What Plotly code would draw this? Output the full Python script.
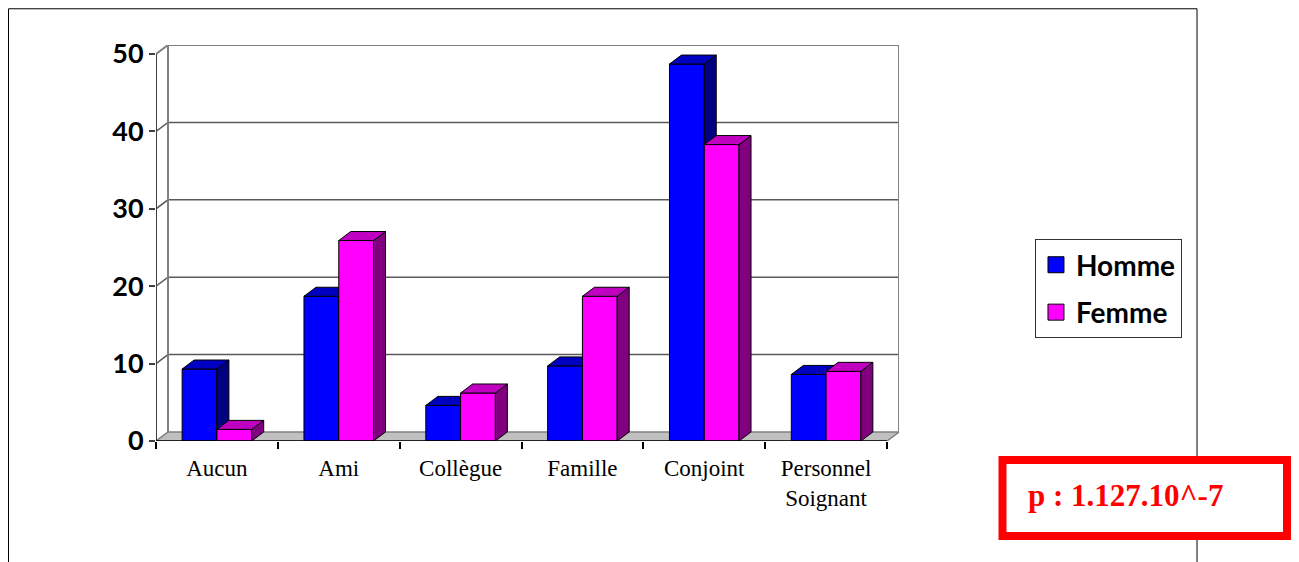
import plotly.graph_objects as go

categories = ["Aucun", "Ami", "Collègue", "Famille", "Conjoint", "Personnel<br>Soignant"]
homme = [9.3, 18.7, 4.6, 9.7, 48.7, 8.6]
femme = [1.5, 25.9, 6.2, 18.7, 38.3, 9.0]
series_names = ["Homme", "Femme"]
y_ticks = [0, 10, 20, 30, 40, 50]
p_text = "p : 1.127.10^-7"

# faux 3D (Excel style): depth offset, one category = 1 x unit
DX = 0.0985
DY = 1.163
BAR_W = 0.2855
n = len(categories)

front_colors = ["#0000FF", "#FF00FF"]
top_colors = ["#0000C0", "#C000C0"]
side_colors = ["#000080", "#800080"]
axes = [("x", "y"), ("x2", "y2")]

fig = go.Figure()

for k, vals in enumerate([homme, femme]):
    xa, ya = axes[k]
    centers = [i + 0.5 + (k - 0.5) * BAR_W for i in range(n)]
    fig.add_trace(go.Bar(x=centers, y=vals, width=BAR_W, xaxis=xa, yaxis=ya,
                         marker=dict(color=front_colors[k], line=dict(color="black", width=1)),
                         showlegend=False, hoverinfo="skip"))
    sx, sy, tx, ty = [], [], [], []
    for c, v in zip(centers, vals):
        x0, x1 = c - BAR_W / 2, c + BAR_W / 2
        sx += [x1, x1 + DX, x1 + DX, x1, x1, None]
        sy += [0, DY, v + DY, v, 0, None]
        tx += [x0, x1, x1 + DX, x0 + DX, x0, None]
        ty += [v, v, v + DY, v + DY, v, None]
    for px, py, col in [(sx, sy, side_colors[k]), (tx, ty, top_colors[k])]:
        fig.add_trace(go.Scatter(x=px, y=py, xaxis=xa, yaxis=ya, mode="lines", fill="toself",
                                 fillcolor=col, line=dict(color="black", width=1),
                                 showlegend=False, hoverinfo="skip"))

# legend entries
for k, name in enumerate(series_names):
    fig.add_trace(go.Scatter(x=[None], y=[None], mode="markers", name=name, legendgroup=name,
                             marker=dict(symbol="square", size=17, color=front_colors[k],
                                         line=dict(color="black", width=1))))

shapes = []
# floor
shapes.append(dict(type="path", xref="x", yref="y", layer="below",
                   path=f"M 0,0 L {n},0 L {n + DX},{DY} L {DX},{DY} Z",
                   fillcolor="#C0C0C0", line=dict(color="#808080", width=1.5)))
# gridlines on side + back wall
for v in y_ticks[1:-1]:
    shapes.append(dict(type="path", xref="x", yref="y", layer="below",
                       path=f"M 0,{v} L {DX},{v + DY} L {n + DX},{v + DY}",
                       line=dict(color="#5A5A5A", width=1.5)))
top = y_ticks[-1]
# wall borders
shapes.append(dict(type="path", xref="x", yref="y", layer="below",
                   path=f"M 0,{top} L {DX},{top + DY} L {n + DX},{top + DY} L {n + DX},{DY}",
                   line=dict(color="#808080", width=2)))
shapes.append(dict(type="line", xref="x", yref="y", layer="below",
                   x0=DX, x1=DX, y0=DY, y1=top + DY, line=dict(color="#808080", width=2)))
# front axes
shapes.append(dict(type="line", xref="x", yref="y", layer="above",
                   x0=0, x1=0, y0=0, y1=top, line=dict(color="#404040", width=2)))
shapes.append(dict(type="line", xref="x", yref="y", layer="above",
                   x0=0, x1=n, y0=0, y1=0, line=dict(color="black", width=1.5)))

# outer frame and p-value box
shapes.append(dict(type="rect", xref="paper", yref="paper", layer="above",
                   x0=-0.1985, x1=1.4011, y0=-0.45, y1=1.0915,
                   line=dict(color="black", width=1)))
shapes.append(dict(type="rect", xref="paper", yref="paper", layer="above",
                   x0=1.1393, x1=1.5222, y0=-0.2399, y1=-0.048,
                   fillcolor="white", line=dict(color="#FF0000", width=8)))

fig.add_annotation(text=f"<b>{p_text}</b>", xref="paper", yref="paper", x=1.3042, y=-0.137,
                   showarrow=False, xanchor="center", yanchor="middle",
                   font=dict(family="Liberation Serif", size=31, color="#FF0000"))

# page body has an 8px margin, so the figure is 8px smaller and shifted
fig.update_layout(
    width=1291, height=554,
    margin=dict(l=148, r=400, t=37, b=121),
    paper_bgcolor="white", plot_bgcolor="white",
    shapes=shapes,
    barmode="overlay",
    xaxis=dict(range=[0, n + DX], tickvals=[i + 0.5 for i in range(n)], ticktext=categories,
               ticks="", showgrid=False, zeroline=False, showline=False, ticklabelstandoff=11,
               tickfont=dict(family="Liberation Serif", size=23, color="black"),
               minor=dict(tickmode="linear", tick0=0, dtick=1, ticks="outside", ticklen=7,
                          tickcolor="black", tickwidth=1.5, showgrid=False)),
    yaxis=dict(range=[0, top + DY], tickvals=y_ticks, ticks="outside", ticklen=6,
               tickcolor="#404040", tickwidth=1.5, showgrid=False, zeroline=False, showline=False,
               tickfont=dict(family="Lato", size=27, color="black", weight="bold")),
    xaxis2=dict(range=[0, n + DX], overlaying="x", visible=False),
    yaxis2=dict(range=[0, top + DY], overlaying="y", visible=False),
    legend=dict(x=1.183, y=0.51, xanchor="left", yanchor="top", bordercolor="#333333",
                borderwidth=1, tracegroupgap=8, itemsizing="trace", entrywidth=110,
                font=dict(family="Lato", size=28, color="black", weight="bold")),
)

fig.write_html("out.html")
